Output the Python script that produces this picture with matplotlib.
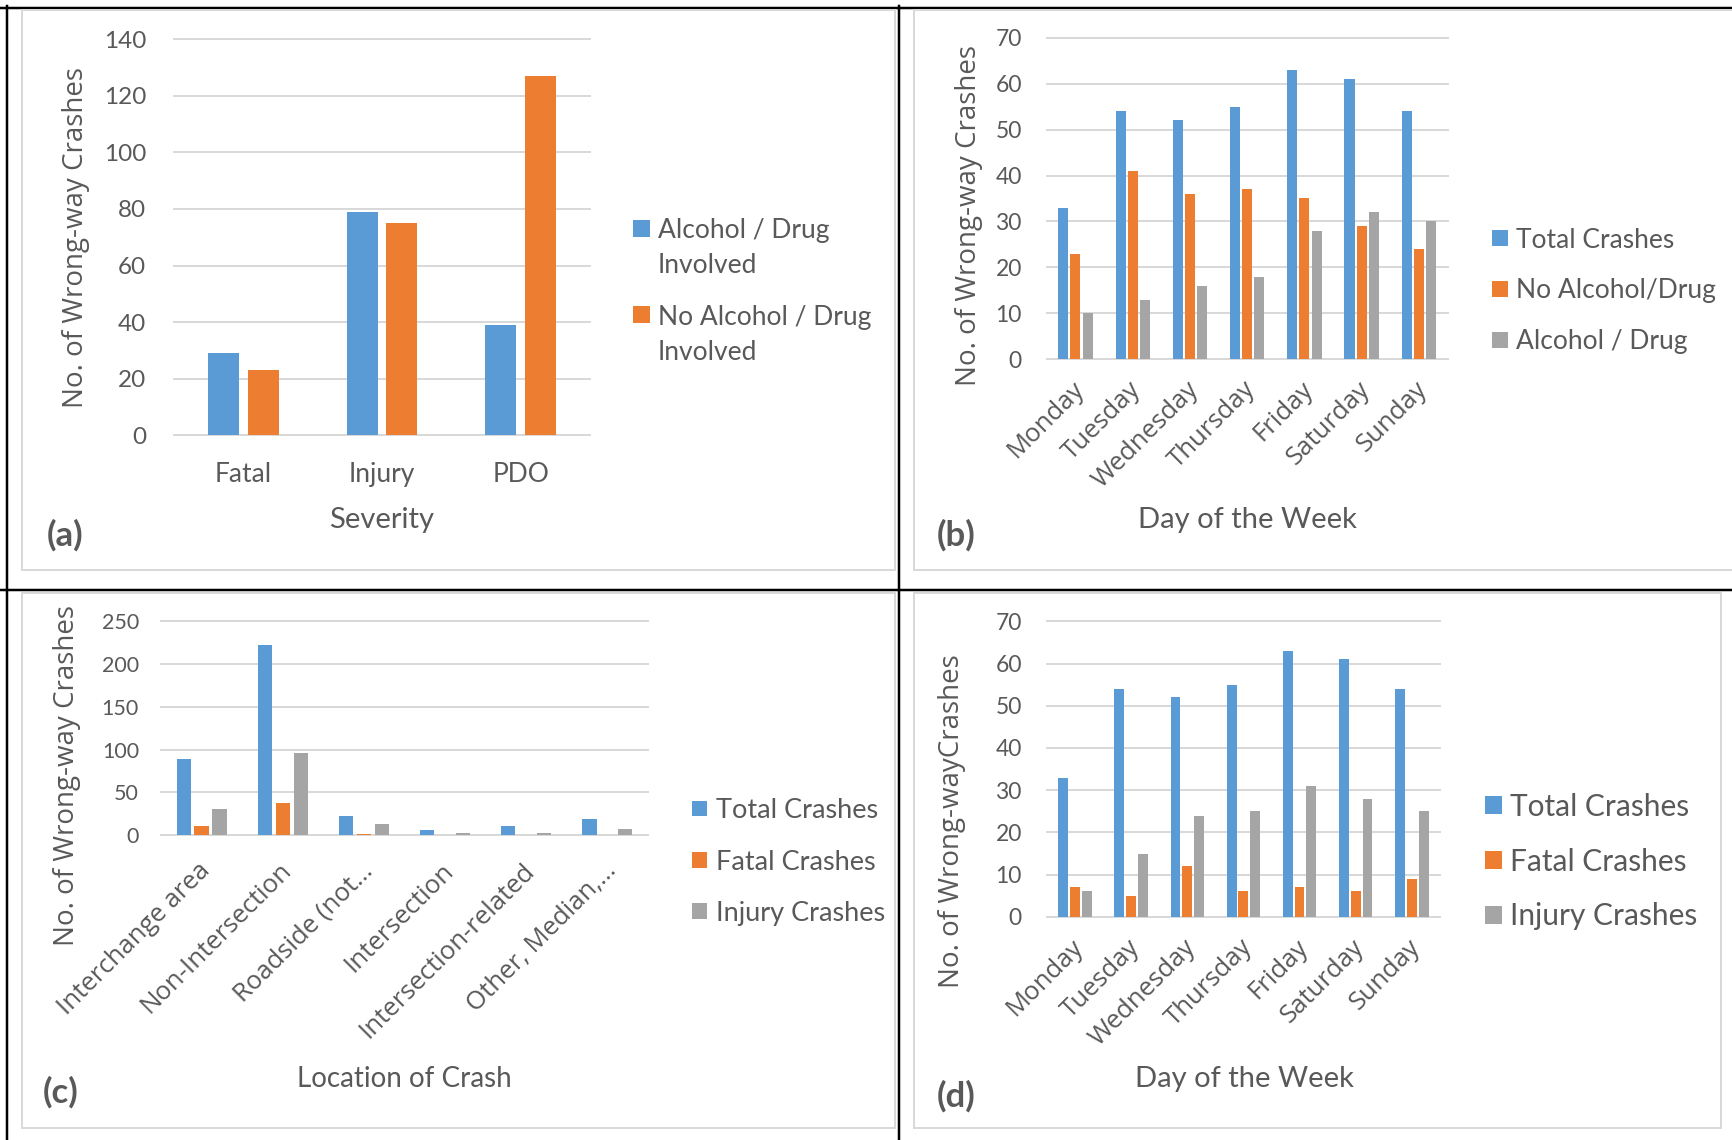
import numpy as np
import matplotlib
matplotlib.use("Agg")
import matplotlib.pyplot as plt
from matplotlib.patches import Rectangle
from matplotlib.lines import Line2D
from matplotlib.transforms import blended_transform_factory, offset_copy

W, H = 1732, 1140
BLUE, ORANGE, GREY = "#5B9BD5", "#ED7D31", "#A5A5A5"
GRID = "#D9D9D9"; TXT = "#595959"
NUM = "Lato"; SANS = "Open Sans"

# (a) severity vs alcohol/drug involvement
sev_cats = ["Fatal", "Injury", "PDO"]
sev_alcohol = [29, 79, 39]
sev_no_alcohol = [23, 75, 127]

# (b) day of week vs alcohol/drug
days = ["Monday", "Tuesday", "Wednesday", "Thursday", "Friday", "Saturday", "Sunday"]
day_total = [33, 54, 52, 55, 63, 61, 54]
day_no_alcohol = [23, 41, 36, 37, 35, 29, 24]
day_alcohol = [10, 13, 16, 18, 28, 32, 30]

# (c) location of crash
loc_cats = ["Interchange area", "Non-Intersection", "Roadside (not\u2026", "Intersection",
            "Intersection-related", "Other, Median,\u2026"]
loc_total = [89, 222, 22, 6, 11, 19]
loc_fatal = [11, 38, 1, 0, 0, 0]
loc_injury = [31, 96, 13, 2, 2, 7]

# (d) day of week vs severity
day_fatal = [7, 5, 12, 6, 7, 6, 9]
day_injury = [6, 15, 24, 25, 31, 28, 25]

fig = plt.figure(figsize=(W/100, H/100), dpi=100)


def fx(x): return x / W
def fy(y): return 1 - y / H
def pt(px): return px * 0.72


def hline(x0, x1, y, color, lw):
    fig.add_artist(Line2D([fx(x0), fx(x1)], [fy(y), fy(y)], transform=fig.transFigure, color=color, lw=pt(lw)))


def vline(x, y0, y1, color, lw):
    fig.add_artist(Line2D([fx(x), fx(x)], [fy(y0), fy(y1)], transform=fig.transFigure, color=color, lw=pt(lw)))


def box(l, t, r, b, color=GRID, lw=2):
    hline(l, r, t, color, lw); hline(l, r, b, color, lw)
    vline(l, t, b, color, lw); vline(r, t, b, color, lw)


def panel(rect, cats, series, colors, ymax, ystep, width, step, fs, pad):
    l, t, r, b = rect
    ax = fig.add_axes([fx(l), fy(b), (r - l) / W, (b - t) / H])
    x = np.arange(len(cats))
    n = len(series)
    for i, (vals, c) in enumerate(zip(series, colors)):
        ax.bar(x + (i - (n - 1) / 2) * step, vals, width, color=c, zorder=3)
    ax.set_xlim(-0.5, len(cats) - 0.5)
    ax.set_ylim(0, ymax)
    ax.set_yticks(np.arange(0, ymax + 1, ystep))
    ax.yaxis.grid(True, color=GRID, lw=pt(2))
    for gl in ax.get_ygridlines():
        gl.set_clip_on(False)
    ax.set_axisbelow(True)
    for s in ax.spines.values():
        s.set_visible(False)
    ax.tick_params(length=0, labelsize=fs, labelcolor=TXT, pad=pt(pad), labelfontfamily=NUM)
    ax.set_facecolor("none")
    return ax, x


def slanted(ax, x, labels, dx, dy, fs=18.5):
    tr = offset_copy(blended_transform_factory(ax.transData, ax.transAxes), fig=fig, x=dx, y=-dy, units="dots")
    ax.set_xticks(x, [])
    for xi, lab in zip(x, labels):
        ax.text(xi, 0, lab, transform=tr, rotation=45, rotation_mode="anchor", ha="right", va="center",
                fontsize=fs, family=SANS, color=TXT)


def legend(xsq, sq, xtxt, fs, items):
    em = fs * 100 / 72
    for color, yc, lines in items:
        fig.add_artist(Rectangle((fx(xsq), fy(yc + sq / 2)), sq / W, sq / H, transform=fig.transFigure,
                                 facecolor=color, edgecolor="none"))
        for k, ln in enumerate(lines):
            fig.text(fx(xtxt), fy(yc + 0.36 * em + k * 35), ln, fontsize=fs, family=NUM, color=TXT, va="baseline")


def ylabel(x, y, s):
    fig.text(fx(x), fy(y), s, rotation=90, ha="center", va="center", fontsize=20, family=SANS, color=TXT)


def xlabel(x, base, s, fs):
    fig.text(fx(x), fy(base), s, ha="center", va="baseline", fontsize=fs, family=NUM, color=TXT)


def tag(x, y, s):
    fig.text(fx(x), fy(y), s, ha="center", va="center", fontsize=25, family=NUM, weight="bold", color=TXT)


# frame lines
hline(0, W, 7.5, "black", 2.5)
hline(0, W, 590, "black", 2.5)
vline(7.5, 6, H, "black", 2.5)
vline(899, 6, H, "black", 2.5)
box(22, 9.5, 895, 570)
box(914, 9.5, W + 5, 570)
box(22, 592.5, 895, 1127.5)
box(914, 592.5, 1721, 1127.5)

# (a)
ax, x = panel((174, 39.1, 590, 435.4), sev_cats, [sev_alcohol, sev_no_alcohol], [BLUE, ORANGE],
              140, 20, 0.224, 0.286, 17.5, 28)
ax.set_xticks(x, sev_cats)
ax.tick_params(axis="x", labelsize=19, pad=pt(27))
ylabel(76, 238, "No. of Wrong-way Crashes")
xlabel(382, 528, "Severity", 21)
tag(65, 535, "(a)")
legend(633, 17, 657.7, 19, [(BLUE, 228.7, ["Alcohol / Drug", "Involved"]),
                             (ORANGE, 315, ["No Alcohol / Drug", "Involved"])])

# (b)
ax, x = panel((1046.8, 37.6, 1447.5, 359.4), days, [day_total, day_no_alcohol, day_alcohol],
              [BLUE, ORANGE, GREY], 70, 10, 0.175, 0.212, 16.5, 25)
slanted(ax, x, days, 5, 26)
ylabel(969, 215, "No. of Wrong-way Crashes")
xlabel(1247.5, 527.5, "Day of the Week", 21)
tag(956, 535, "(b)")
legend(1491.5, 16, 1515.7, 19, [(BLUE, 238, ["Total Crashes"]), (ORANGE, 288.6, ["No Alcohol/Drug"]),
                                (GREY, 340, ["Alcohol / Drug"])])

# (c)
ax, x = panel((161, 621.3, 648, 835), loc_cats, [loc_total, loc_fatal, loc_injury], [BLUE, ORANGE, GREY],
              250, 50, 0.176, 0.221, 15.5, 22)
slanted(ax, x, loc_cats, 5, 32)
ylabel(67.5, 776, "No. of Wrong-way Crashes")
xlabel(404.5, 1087, "Location of Crash", 20)
tag(61, 1092, "(c)")
legend(691.7, 15.5, 715.8, 19.5, [(BLUE, 808.4, ["Total Crashes"]), (ORANGE, 860.2, ["Fatal Crashes"]),
                                  (GREY, 911, ["Injury Crashes"])])

# (d)
ax, x = panel((1046.8, 621.4, 1440, 916.8), days, [day_total, day_fatal, day_injury], [BLUE, ORANGE, GREY],
              70, 10, 0.175, 0.21, 16.5, 25)
slanted(ax, x, days, 5, 27)
ylabel(952, 821, "No. of Wrong-wayCrashes")
xlabel(1244, 1087, "Day of the Week", 21)
tag(956, 1096, "(d)")
legend(1484.5, 17.7, 1510.3, 21.5, [(BLUE, 805, ["Total Crashes"]), (ORANGE, 860, ["Fatal Crashes"]),
                                    (GREY, 914.7, ["Injury Crashes"])])

fig.savefig("out.png", dpi=100)
